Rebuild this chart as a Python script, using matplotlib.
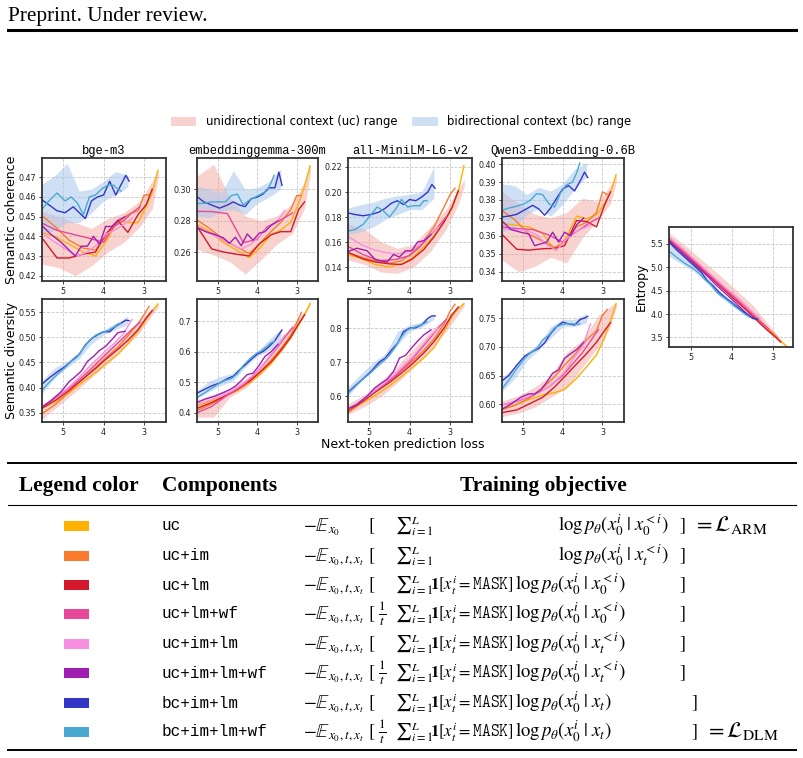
import matplotlib
matplotlib.use("Agg")
import matplotlib.pyplot as plt
from matplotlib.patches import Patch, Rectangle
from matplotlib.ticker import FormatStrFormatter

W, H = 804, 758

# ---- configurations and colors
series = ["uc", "uc+im", "uc+lm", "uc+lm+wf", "uc+im+lm", "uc+im+lm+wf", "bc+im+lm", "bc+im+lm+wf"]
colors = ["#FFB000", "#FA7A2E", "#D4192F", "#E8489A", "#F88FE2", "#A01FB0", "#3336C6", "#4AA9D3"]

# next-token loss at each checkpoint, per configuration
x_uc = [5.55, 5.2, 4.85, 4.5, 4.2, 3.95, 3.65, 3.4, 3.15, 2.95, 2.8, 2.66]
x_uc_im = [5.55, 5.2, 4.85, 4.5, 4.2, 3.95, 3.65, 3.4, 3.15, 3.0, 2.88]
x_uc_lm = [5.55, 5.15, 4.85, 4.5, 4.2, 3.95, 3.65, 3.4, 3.15, 2.95, 2.8]
x_uc_lm_wf = [5.55, 5.15, 4.75, 4.35, 4.0, 3.75, 3.5, 3.3, 3.1]
x_uc_im_lm = [5.55, 5.2, 4.9, 4.65, 4.4, 4.15, 3.95, 3.75, 3.5, 3.3]
x_uc_im_lm_wf = [5.55, 5.3, 5.05, 4.85, 4.7, 4.55, 4.4, 4.25, 4.1, 3.95, 3.8, 3.65, 3.47]
x_bc_im_lm = [5.55, 5.35, 5.15, 4.95, 4.75, 4.6, 4.45, 4.3, 4.15, 4.0, 3.85, 3.7, 3.55, 3.45, 3.37]
x_bc_im_lm_wf = [5.55, 5.35, 5.15, 4.95, 4.8, 4.65, 4.5, 4.35, 4.2, 4.05, 3.9, 3.75, 3.65, 3.57]
x_lists = [x_uc, x_uc_im, x_uc_lm, x_uc_lm_wf, x_uc_im_lm, x_uc_im_lm_wf, x_bc_im_lm, x_bc_im_lm_wf]

band_x_uc = [5.55, 5.1, 4.7, 4.3, 3.9, 3.5, 3.1, 2.8, 2.65]
band_x_bc = [5.55, 5.2, 4.9, 4.6, 4.3, 4.0, 3.7, 3.4]

# ---- semantic coherence
coh_bge = [
    [0.442, 0.440, 0.436, 0.432, 0.430, 0.437, 0.448, 0.447, 0.447, 0.455, 0.462, 0.4735],
    [0.451, 0.445, 0.438, 0.434, 0.433, 0.440, 0.447, 0.451, 0.453, 0.461, 0.461],
    [0.440, 0.429, 0.429, 0.431, 0.432, 0.441, 0.448, 0.442, 0.451, 0.456, 0.464],
    [0.447, 0.443, 0.441, 0.439, 0.437, 0.445, 0.448, 0.452, 0.455],
    [0.442, 0.437, 0.433, 0.430, 0.432, 0.436, 0.441, 0.443, 0.446, 0.449],
    [0.446, 0.441, 0.437, 0.433, 0.430, 0.435, 0.435, 0.440, 0.436, 0.445, 0.445, 0.448, 0.450],
    [0.459, 0.456, 0.453, 0.452, 0.455, 0.452, 0.449, 0.458, 0.460, 0.461, 0.468, 0.461, 0.467, 0.471, 0.468],
    [0.453, 0.458, 0.462, 0.458, 0.460, 0.457, 0.451, 0.460, 0.461, 0.464, 0.466, 0.466, 0.464, 0.463],
]
coh_bge_band = [
    [0.426, 0.424, 0.420, 0.425, 0.432, 0.437, 0.445, 0.454, 0.470],
    [0.453, 0.450, 0.447, 0.444, 0.449, 0.452, 0.458, 0.468, 0.474],
    [0.441, 0.443, 0.447, 0.447, 0.452, 0.458, 0.461, 0.465],
    [0.466, 0.471, 0.477, 0.463, 0.464, 0.468, 0.473, 0.471],
]

coh_gemma = [
    [0.278, 0.273, 0.266, 0.261, 0.2565, 0.262, 0.271, 0.274, 0.279, 0.291, 0.302, 0.315],
    [0.281, 0.275, 0.268, 0.263, 0.259, 0.265, 0.273, 0.279, 0.287, 0.296, 0.296],
    [0.2775, 0.262, 0.260, 0.2585, 0.2575, 0.265, 0.271, 0.273, 0.273, 0.287, 0.292],
    [0.286, 0.2858, 0.2845, 0.266, 0.268, 0.276, 0.279, 0.282, 0.285],
    [0.277, 0.272, 0.268, 0.265, 0.262, 0.265, 0.270, 0.275, 0.279, 0.2865],
    [0.276, 0.273, 0.271, 0.269, 0.2655, 0.2695, 0.264, 0.2715, 0.2675, 0.272, 0.273, 0.277, 0.280],
    [0.296, 0.292, 0.290, 0.288, 0.290, 0.292, 0.290, 0.289, 0.294, 0.295, 0.297, 0.301, 0.301, 0.311, 0.3025],
    [0.291, 0.291, 0.292, 0.292, 0.292, 0.296, 0.297, 0.290, 0.293, 0.295, 0.297, 0.299, 0.304, 0.309],
]
coh_gemma_band = [
    [0.262, 0.258, 0.254, 0.246, 0.255, 0.265, 0.272, 0.288, 0.310],
    [0.308, 0.316, 0.295, 0.283, 0.280, 0.283, 0.291, 0.305, 0.316],
    [0.283, 0.282, 0.286, 0.287, 0.284, 0.291, 0.295, 0.300],
    [0.302, 0.300, 0.298, 0.312, 0.300, 0.301, 0.305, 0.313],
]

coh_minilm = [
    [0.150, 0.147, 0.142, 0.140, 0.1425, 0.147, 0.156, 0.165, 0.176, 0.187, 0.200, 0.221],
    [0.152, 0.148, 0.145, 0.143, 0.145, 0.151, 0.161, 0.172, 0.188, 0.198, 0.203],
    [0.152, 0.1465, 0.144, 0.1425, 0.142, 0.146, 0.154, 0.164, 0.176, 0.188, 0.201],
    [0.157, 0.150, 0.145, 0.146, 0.149, 0.156, 0.165, 0.172, 0.180],
    [0.165, 0.158, 0.154, 0.152, 0.1505, 0.151, 0.153, 0.158, 0.166, 0.172],
    [0.152, 0.155, 0.153, 0.146, 0.145, 0.144, 0.150, 0.148, 0.153, 0.153, 0.160, 0.161, 0.166],
    [0.1835, 0.182, 0.181, 0.182, 0.184, 0.187, 0.191, 0.193, 0.190, 0.194, 0.193, 0.196, 0.200, 0.206, 0.203],
    [0.1685, 0.170, 0.174, 0.182, 0.188, 0.185, 0.180, 0.186, 0.194, 0.188, 0.189, 0.189, 0.193, 0.193],
]
coh_minilm_band = [
    [0.146, 0.142, 0.136, 0.135, 0.140, 0.152, 0.170, 0.190, 0.205],
    [0.175, 0.170, 0.160, 0.155, 0.158, 0.172, 0.186, 0.202, 0.210],
    [0.166, 0.168, 0.172, 0.178, 0.182, 0.186, 0.186, 0.195],
    [0.187, 0.190, 0.192, 0.195, 0.197, 0.198, 0.200, 0.220],
]

coh_qwen = [
    [0.367, 0.366, 0.365, 0.3615, 0.352, 0.357, 0.371, 0.3695, 0.3715, 0.378, 0.384, 0.394],
    [0.3745, 0.369, 0.361, 0.357, 0.3535, 0.3565, 0.365, 0.3675, 0.373, 0.3845, 0.383],
    [0.3615, 0.3525, 0.352, 0.3528, 0.353, 0.3545, 0.3685, 0.368, 0.365, 0.377, 0.3845],
    [0.365, 0.364, 0.3635, 0.3605, 0.3565, 0.361, 0.3645, 0.3675, 0.370],
    [0.364, 0.3635, 0.363, 0.3605, 0.355, 0.352, 0.357, 0.3615, 0.364, 0.366],
    [0.369, 0.3635, 0.362, 0.361, 0.3545, 0.3555, 0.3565, 0.362, 0.3565, 0.362, 0.360, 0.366, 0.370],
    [0.3705, 0.371, 0.372, 0.3745, 0.377, 0.375, 0.3715, 0.3755, 0.381, 0.386, 0.388, 0.385, 0.391, 0.3955, 0.3925],
    [0.374, 0.3755, 0.3765, 0.378, 0.380, 0.3835, 0.383, 0.378, 0.376, 0.384, 0.3885, 0.390, 0.395, 0.4005],
]
coh_qwen_band = [
    [0.347, 0.340, 0.343, 0.348, 0.345, 0.359, 0.369, 0.378, 0.390],
    [0.385, 0.378, 0.372, 0.370, 0.373, 0.381, 0.379, 0.388, 0.394],
    [0.362, 0.364, 0.372, 0.375, 0.371, 0.3775, 0.386, 0.393],
    [0.389, 0.388, 0.383, 0.387, 0.385, 0.389, 0.397, 0.401],
]

# ---- semantic diversity
div_bge = [
    [0.357, 0.372, 0.390, 0.412, 0.430, 0.447, 0.466, 0.487, 0.512, 0.535, 0.552, 0.566],
    [0.347, 0.366, 0.392, 0.418, 0.440, 0.459, 0.480, 0.503, 0.527, 0.545, 0.561],
    [0.358, 0.377, 0.395, 0.418, 0.438, 0.456, 0.476, 0.494, 0.515, 0.538, 0.553],
    [0.360, 0.382, 0.405, 0.434, 0.462, 0.481, 0.500, 0.516, 0.530],
    [0.360, 0.381, 0.398, 0.417, 0.438, 0.458, 0.473, 0.487, 0.508, 0.535],
    [0.360, 0.374, 0.392, 0.412, 0.422, 0.433, 0.452, 0.462, 0.474, 0.482, 0.495, 0.509, 0.512],
    [0.405, 0.419, 0.431, 0.442, 0.456, 0.466, 0.485, 0.497, 0.505, 0.511, 0.511, 0.522, 0.529, 0.534, 0.533],
    [0.392, 0.410, 0.426, 0.440, 0.452, 0.461, 0.478, 0.494, 0.504, 0.510, 0.513, 0.520, 0.526, 0.527],
]
div_bge_band = [
    [0.336, 0.365, 0.392, 0.420, 0.448, 0.478, 0.510, 0.545, 0.560],
    [0.365, 0.385, 0.415, 0.448, 0.475, 0.505, 0.535, 0.558, 0.567],
    [0.385, 0.420, 0.440, 0.458, 0.487, 0.505, 0.516, 0.525],
    [0.412, 0.440, 0.452, 0.472, 0.500, 0.515, 0.528, 0.542],
]

div_gemma = [
    [0.420, 0.436, 0.452, 0.472, 0.497, 0.522, 0.560, 0.600, 0.645, 0.688, 0.722, 0.760],
    [0.405, 0.425, 0.450, 0.477, 0.505, 0.532, 0.572, 0.610, 0.655, 0.695, 0.730],
    [0.412, 0.433, 0.452, 0.476, 0.502, 0.530, 0.566, 0.605, 0.648, 0.692, 0.722],
    [0.398, 0.420, 0.458, 0.488, 0.535, 0.573, 0.612, 0.648, 0.680],
    [0.425, 0.440, 0.455, 0.470, 0.492, 0.517, 0.542, 0.575, 0.615, 0.655],
    [0.432, 0.445, 0.455, 0.466, 0.475, 0.487, 0.505, 0.525, 0.530, 0.555, 0.585, 0.600, 0.625],
    [0.462, 0.475, 0.488, 0.497, 0.512, 0.520, 0.540, 0.557, 0.575, 0.592, 0.601, 0.617, 0.637, 0.657, 0.672],
    [0.447, 0.463, 0.480, 0.497, 0.506, 0.512, 0.528, 0.555, 0.575, 0.592, 0.603, 0.618, 0.630, 0.634],
]
div_gemma_band = [
    [0.385, 0.385, 0.450, 0.480, 0.530, 0.600, 0.660, 0.720, 0.755],
    [0.440, 0.460, 0.480, 0.510, 0.555, 0.630, 0.690, 0.735, 0.762],
    [0.445, 0.470, 0.490, 0.505, 0.550, 0.585, 0.605, 0.630],
    [0.470, 0.505, 0.520, 0.530, 0.565, 0.600, 0.640, 0.675],
]

div_minilm = [
    [0.553, 0.577, 0.602, 0.630, 0.658, 0.682, 0.712, 0.742, 0.790, 0.835, 0.857, 0.872],
    [0.548, 0.580, 0.612, 0.645, 0.675, 0.700, 0.735, 0.768, 0.812, 0.850, 0.870],
    [0.556, 0.585, 0.612, 0.640, 0.668, 0.693, 0.727, 0.760, 0.800, 0.840, 0.862],
    [0.558, 0.590, 0.625, 0.660, 0.700, 0.735, 0.770, 0.800, 0.825],
    [0.560, 0.585, 0.612, 0.635, 0.660, 0.690, 0.712, 0.740, 0.775, 0.800],
    [0.562, 0.575, 0.600, 0.625, 0.638, 0.650, 0.672, 0.712, 0.720, 0.742, 0.762, 0.780, 0.795],
    [0.608, 0.630, 0.651, 0.673, 0.700, 0.712, 0.735, 0.755, 0.790, 0.800, 0.801, 0.810, 0.829, 0.836, 0.836],
    [0.605, 0.628, 0.650, 0.670, 0.688, 0.703, 0.720, 0.745, 0.775, 0.795, 0.802, 0.808, 0.813, 0.818],
]
div_minilm_band = [
    [0.545, 0.570, 0.600, 0.640, 0.685, 0.735, 0.790, 0.840, 0.865],
    [0.575, 0.605, 0.645, 0.690, 0.740, 0.790, 0.830, 0.865, 0.875],
    [0.595, 0.645, 0.675, 0.705, 0.750, 0.790, 0.803, 0.825],
    [0.625, 0.665, 0.700, 0.725, 0.790, 0.810, 0.818, 0.838],
]

div_qwen = [
    [0.592, 0.598, 0.608, 0.616, 0.620, 0.626, 0.645, 0.665, 0.686, 0.715, 0.745, 0.775],
    [0.590, 0.598, 0.610, 0.628, 0.648, 0.668, 0.690, 0.712, 0.728, 0.755, 0.765],
    [0.585, 0.590, 0.600, 0.612, 0.630, 0.648, 0.670, 0.688, 0.708, 0.728, 0.742],
    [0.598, 0.605, 0.615, 0.630, 0.650, 0.670, 0.690, 0.710, 0.730],
    [0.598, 0.605, 0.612, 0.620, 0.628, 0.642, 0.656, 0.678, 0.700, 0.740],
    [0.590, 0.600, 0.612, 0.618, 0.618, 0.625, 0.638, 0.654, 0.660, 0.680, 0.688, 0.695, 0.708],
    [0.639, 0.650, 0.668, 0.684, 0.692, 0.697, 0.707, 0.723, 0.735, 0.743, 0.740, 0.738, 0.748, 0.750, 0.753],
    [0.624, 0.642, 0.662, 0.680, 0.690, 0.697, 0.712, 0.720, 0.733, 0.738, 0.740, 0.740, 0.739, 0.740],
]
div_qwen_band = [
    [0.578, 0.585, 0.595, 0.612, 0.628, 0.665, 0.700, 0.735, 0.770],
    [0.605, 0.615, 0.630, 0.650, 0.690, 0.712, 0.755, 0.770, 0.778],
    [0.620, 0.645, 0.675, 0.695, 0.715, 0.735, 0.735, 0.742],
    [0.645, 0.665, 0.690, 0.705, 0.735, 0.748, 0.748, 0.758],
]

# ---- entropy
entropy = [
    [5.66, 5.38, 5.10, 4.82, 4.58, 4.38, 4.14, 3.93, 3.72, 3.55, 3.42, 3.31],
    [5.64, 5.36, 5.09, 4.81, 4.57, 4.37, 4.13, 3.93, 3.72, 3.60, 3.50],
    [5.60, 5.30, 5.05, 4.77, 4.53, 4.33, 4.09, 3.88, 3.67, 3.52, 3.40],
    [5.62, 5.31, 5.00, 4.68, 4.41, 4.21, 4.00, 3.84, 3.68],
    [5.66, 5.40, 5.16, 4.96, 4.76, 4.56, 4.42, 4.26, 4.05, 3.90],
    [5.58, 5.38, 5.18, 5.02, 4.90, 4.78, 4.64, 4.52, 4.40, 4.28, 4.15, 4.02, 3.90],
    [5.56, 5.38, 5.22, 5.06, 4.90, 4.72, 4.60, 4.46, 4.35, 4.25, 4.14, 4.04, 3.94, 3.90, 3.89],
    [5.36, 5.22, 5.09, 4.98, 4.88, 4.74, 4.62, 4.45, 4.36, 4.26, 4.15, 4.05, 3.98, 3.94],
]
entropy_band = [
    [5.55, 5.22, 4.92, 4.60, 4.28, 3.92, 3.62, 3.40, 3.30],
    [5.76, 5.44, 5.14, 4.84, 4.52, 4.20, 3.78, 3.45, 3.32],
    [5.25, 5.06, 4.90, 4.66, 4.38, 4.18, 4.00, 3.86],
    [5.58, 5.35, 5.08, 4.80, 4.50, 4.28, 4.08, 3.92],
]

model_titles = ["bge-m3", "embeddinggemma-300m", "all-MiniLM-L6-v2", "Qwen3-Embedding-0.6B"]

# table text
row_frac = [False, False, False, True, False, True, False, True]
row_ind = [False, False, True, True, True, True, True, True]
row_cond = [r"x_0^{<i}", r"x_t^{<i}", r"x_0^{<i}", r"x_0^{<i}", r"x_t^{<i}", r"x_t^{<i}", r"x_t", r"x_t"]

UC_BAND = "#EE9C96"
BC_BAND = "#A9C7EE"

plt.rcParams["mathtext.fontset"] = "stix"
fig = plt.figure(figsize=(W / 100, H / 100), dpi=100)

# page layer in pixel coordinates
page = fig.add_axes([0, 0, 1, 1])
page.set_xlim(0, W)
page.set_ylim(H, 0)
page.axis("off")


def px_axes(x0, top, x1, bottom):
    return fig.add_axes([x0 / W, 1 - bottom / H, (x1 - x0) / W, (bottom - top) / H])


def draw_panel(ax, ys, band, ylim, yticks, fmt, xlim=(5.52, 2.46)):
    ax.fill_between(band_x_uc, band[0], band[1], color=UC_BAND, alpha=0.45, lw=0)
    ax.fill_between(band_x_bc, band[2], band[3], color=BC_BAND, alpha=0.55, lw=0)
    for xs, y, c in zip(x_lists, ys, colors):
        ax.plot(xs, y, color=c, lw=1.0)
    ax.set_xlim(*xlim)
    ax.set_ylim(*ylim)
    ax.set_xticks([5, 4, 3])
    ax.set_yticks(yticks)
    ax.yaxis.set_major_formatter(FormatStrFormatter(fmt))
    ax.grid(True, color="#c8c8c8", linestyle="--", linewidth=0.6)
    ax.set_axisbelow(True)
    for sp in ax.spines.values():
        sp.set_linewidth(1.3)
        sp.set_color("#333333")
    ax.tick_params(labelsize=5.8, length=2.5, width=0.6, pad=1.5, colors="#222222")


cols = [(42, 166), (197, 318), (348, 472), (502, 624)]
row1 = (158, 281)
row2 = (299, 422)

coh_data = [coh_bge, coh_gemma, coh_minilm, coh_qwen]
coh_bands = [coh_bge_band, coh_gemma_band, coh_minilm_band, coh_qwen_band]
coh_ylims = [(0.4173, 0.4798), (0.2415, 0.320), (0.1288, 0.2272), (0.3348, 0.4034)]
coh_ticks = [[0.42, 0.43, 0.44, 0.45, 0.46, 0.47], [0.26, 0.28, 0.30],
             [0.14, 0.16, 0.18, 0.20, 0.22], [0.34, 0.35, 0.36, 0.37, 0.38, 0.39, 0.40]]

div_data = [div_bge, div_gemma, div_minilm, div_qwen]
div_bands = [div_bge_band, div_gemma_band, div_minilm_band, div_qwen_band]
div_ylims = [(0.332, 0.5759), (0.369, 0.774), (0.524, 0.8857), (0.569, 0.7833)]
div_ticks = [[0.35, 0.40, 0.45, 0.50, 0.55], [0.4, 0.5, 0.6, 0.7], [0.6, 0.7, 0.8], [0.60, 0.65, 0.70, 0.75]]
div_fmts = ["%.2f", "%.1f", "%.1f", "%.2f"]

for i, (x0, x1) in enumerate(cols):
    ax = px_axes(x0, row1[0], x1, row1[1])
    draw_panel(ax, coh_data[i], coh_bands[i], coh_ylims[i], coh_ticks[i], "%.2f")
    ax.set_title(model_titles[i], fontsize=8.7, family="Liberation Mono", pad=3)
    if i == 0:
        ax.set_ylabel("Semantic coherence", fontsize=9, labelpad=0.5)

    ax = px_axes(x0, row2[0], x1, row2[1])
    draw_panel(ax, div_data[i], div_bands[i], div_ylims[i], div_ticks[i], div_fmts[i])
    if i == 0:
        ax.set_ylabel("Semantic diversity", fontsize=9, labelpad=0.5)

ax = px_axes(669, 227, 793, 347)
draw_panel(ax, entropy, entropy_band, (3.293, 5.864), [3.5, 4.0, 4.5, 5.0, 5.5], "%.1f", xlim=(5.53, 2.5))
ax.set_ylabel("Entropy", fontsize=9, labelpad=2)

fig.text(403 / W, 1 - 444 / H, "Next-token prediction loss", fontsize=9, ha="center", va="center")

handles = [Patch(facecolor=UC_BAND, alpha=0.45, edgecolor="none", label="unidirectional context (uc) range"),
           Patch(facecolor=BC_BAND, alpha=0.55, edgecolor="none", label="bidirectional context (bc) range")]
fig.legend(handles=handles, loc="center", bbox_to_anchor=(401 / W, 1 - 122 / H), ncol=2,
           frameon=False, fontsize=8.4, handlelength=2.2, handleheight=0.8, columnspacing=1.3)

# ---- page header
page.text(8, 16, "Preprint. Under review.", family="Liberation Serif", fontsize=15.3, va="center")
page.plot([8, 796], [30, 30], color="black", lw=2.2)

# ---- table
page.plot([8, 796], [463, 463], color="black", lw=1.4)
page.plot([8, 796], [505, 505], color="black", lw=0.8)
page.plot([8, 796], [750, 750], color="black", lw=1.4)
hdr = dict(family="Liberation Serif", fontweight="bold", fontsize=15.4, va="center")
page.text(79, 486, "Legend color", ha="center", **hdr)
page.text(162, 486, "Components", ha="left", **hdr)
page.text(543, 486, "Training objective", ha="center", **hdr)

row_y = [526, 556, 585, 614, 644, 673, 703, 732]
mfs = 13.5
for k, name in enumerate(series):
    y = row_y[k]
    page.add_patch(Rectangle((64, y - 5), 25, 10, color=colors[k], lw=0))
    page.text(162, y, name, family="Liberation Mono", fontsize=11.5, va="center")
    base = y + 5
    sub = r"x_0" if k == 0 else r"x_0,t,x_t"
    page.text(303, base, r"$-\mathbb{E}_{%s}$" % sub, fontsize=mfs, va="baseline")
    page.text(368, base, r"$[$", fontsize=mfs, va="baseline")
    if row_frac[k]:
        page.text(378, base, r"$\frac{1}{t}$", fontsize=mfs, va="baseline")
    page.text(395, base, r"${\sum}_{i=1}^{L}$", fontsize=12.5, va="baseline")
    if row_ind[k]:
        page.text(430, base, r"$\mathbf{1}[x_t^i = \mathtt{MASK}]$", fontsize=12, va="baseline")
        lx = 515
    else:
        lx = 558
    page.text(lx, base, r"$\log p_\theta(x_0^i\;|\;%s)$" % row_cond[k], fontsize=mfs, va="baseline")
    page.text(679 if k < 6 else 691, base, r"$]$", fontsize=mfs, va="baseline")
    if k == 0:
        page.text(693, base, r"$= \mathcal{L}_{\mathrm{ARM}}$", fontsize=16, va="baseline")
    if k == 7:
        page.text(705, base, r"$= \mathcal{L}_{\mathrm{DLM}}$", fontsize=16, va="baseline")

fig.savefig("out.png", dpi=100)
